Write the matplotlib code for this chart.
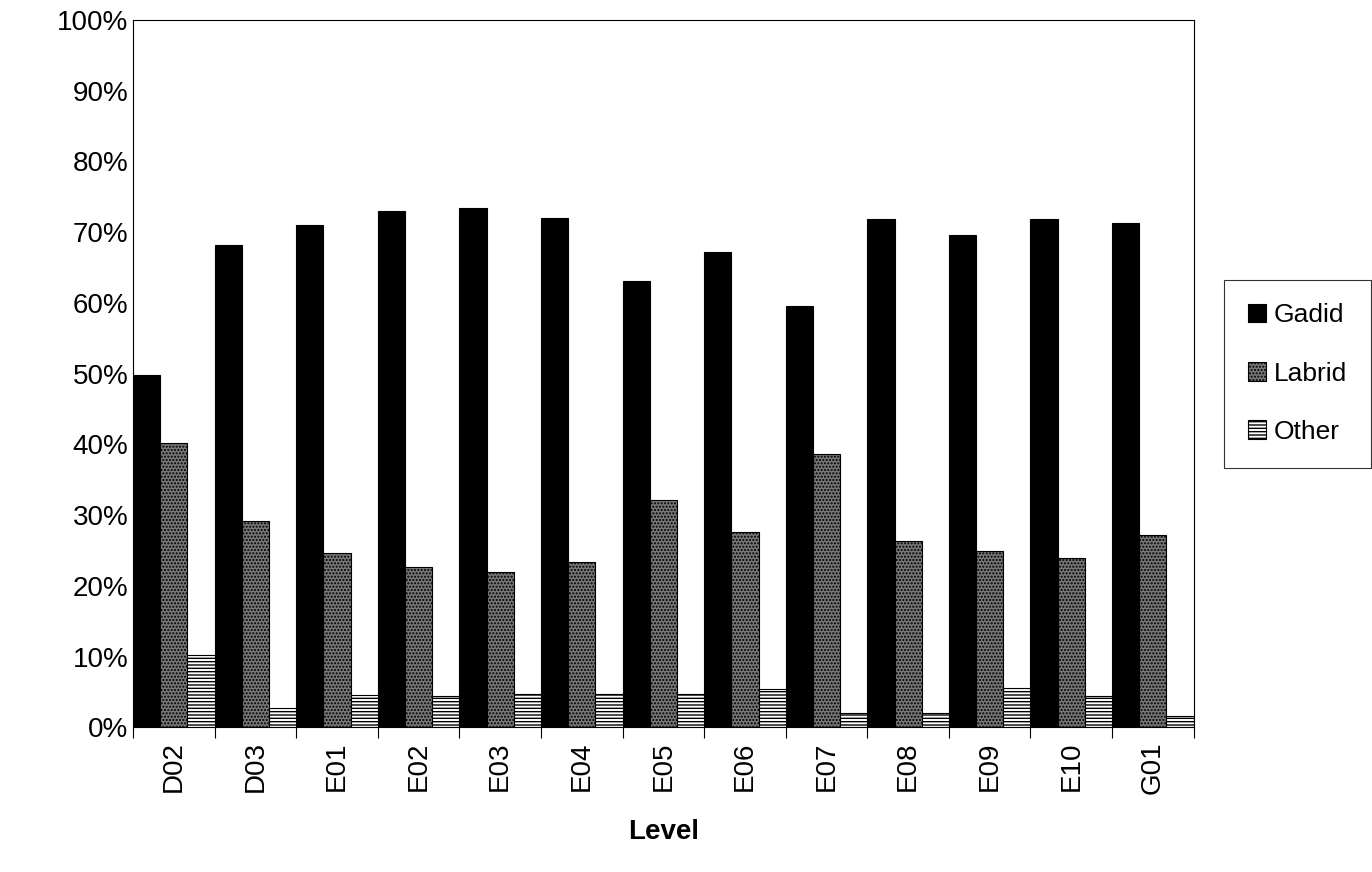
import matplotlib
matplotlib.use("Agg")
import matplotlib.pyplot as plt
import numpy as np
from matplotlib.ticker import PercentFormatter

plt.rcParams['font.family'] = ['Liberation Sans', 'DejaVu Sans']
plt.rcParams['hatch.linewidth'] = 1.0

levels = ["D02","D03","E01","E02","E03","E04","E05","E06","E07","E08","E09","E10","G01"]
gadid = [49.8,68.2,71.0,73.0,73.4,72.0,63.1,67.2,59.5,71.9,69.6,71.9,71.3]
labrid = [40.2,29.1,24.6,22.6,21.9,23.3,32.2,27.6,38.6,26.3,24.9,23.9,27.2]
other = [10.2,2.7,4.5,4.4,4.7,4.7,4.7,5.4,2.0,2.0,5.5,4.4,1.6]

fig = plt.figure(figsize=(13.72,8.72), dpi=100)
ax = fig.add_axes([0.097,0.166,0.773,0.811])
x = np.arange(len(levels))
w = 1/3
ax.bar(x-w, gadid, w, color='black', edgecolor='black', linewidth=0.8, label='Gadid')
ax.bar(x, labrid, w, color='#777777', edgecolor='black', hatch='.....', linewidth=0.8, label='Labrid')
ax.bar(x+w, other, w, color='white', edgecolor='black', hatch='-----', linewidth=0.8, label='Other')
ax.set_xlim(-0.5, len(levels)-0.5)
ax.set_ylim(0,100)
ax.yaxis.set_major_locator(plt.MultipleLocator(10))
ax.yaxis.set_major_formatter(PercentFormatter(decimals=0))
ax.set_xticks(np.arange(len(levels)+1)-0.5, minor=False)
ax.set_xticklabels([])
ax.set_xticks(x, minor=True)
ax.set_xticklabels(levels, minor=True, rotation=90, fontsize=20)
ax.tick_params(axis='x', which='minor', length=0, pad=10)
ax.tick_params(axis='x', which='major', length=8, direction='out')
ax.tick_params(axis='y', labelsize=20, length=0)
ax.set_xlabel('Level', fontsize=20, fontweight='bold', labelpad=18)
leg = ax.legend(loc='center left', bbox_to_anchor=(1.016,0.5), fontsize=19, frameon=True,
                fancybox=False, edgecolor='black', handlelength=0.7, handleheight=0.7,
                labelspacing=1.3, borderpad=0.9, handletextpad=0.3)
leg.get_frame().set_linewidth(0.8)
fig.savefig('out.png')
